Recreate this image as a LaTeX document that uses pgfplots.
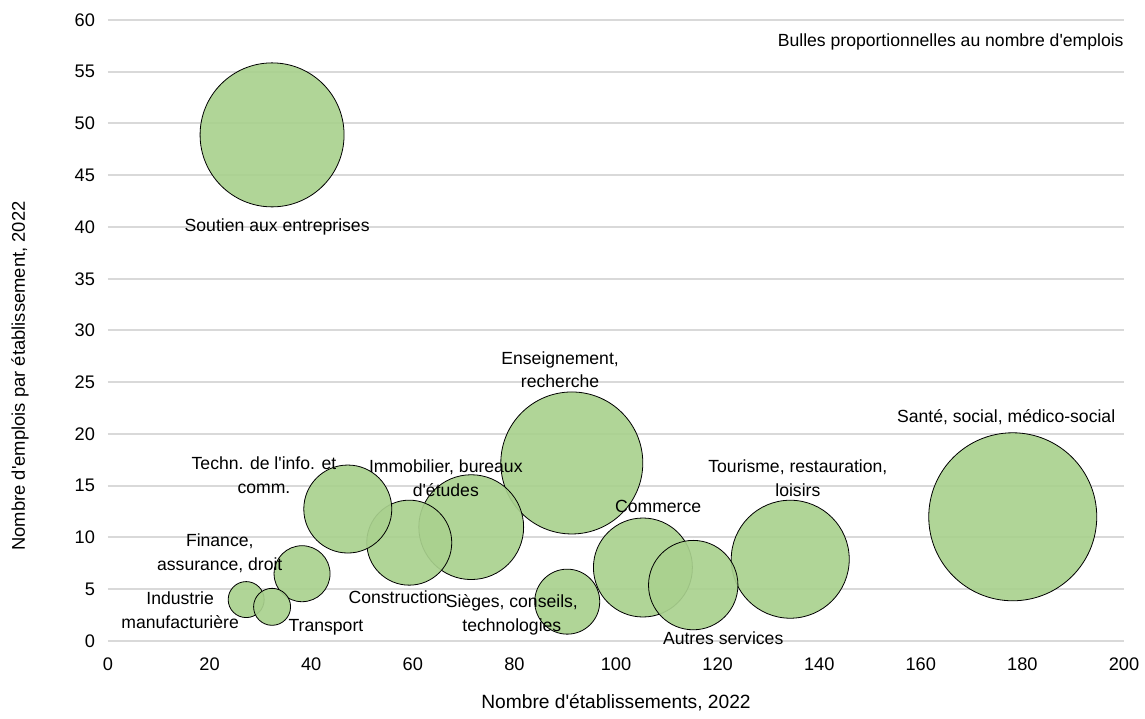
\documentclass[border=0pt]{standalone}
\usepackage{fontspec}
\setmainfont{Liberation Sans}
\usepackage{pgfplots}
\pgfplotsset{compat=1.18}
\usepackage{pgfplotstable}

\definecolor{bubble}{HTML}{A9D18E}
\definecolor{gridgray}{HTML}{D9D9D9}
\newcommand{\q}{\textquotesingle}

% x, y, bubble radius (pt)
\pgfplotstableread{
x     y     r
32.3  48.9  36
178.1 12.0  42
91.3  17.2  35.5
134.3 7.9   29.5
105.3 7.1   24.75
115.2 5.4   22.35
90.4  3.8   16.25
71.5  11.0  26.2
59.3  9.5   21.25
47.2  12.75 22
38.2  6.5   14
27.2  4.0   9
32.3  3.3   9.25
}\bubbles

\begin{document}
\begin{tikzpicture}
\begin{axis}[
    name=ax,
    set layers,
    scale only axis,
    width=508pt, height=310.5pt,
    xmin=0, xmax=200, ymin=0, ymax=60,
    xtick={0,20,...,200}, ytick={0,5,...,60},
    axis line style={draw=none},
    tick style={draw=none},
    ymajorgrids,
    grid style={gridgray, line width=1pt},
    tick label style={font=\fontsize{9.1}{11}\selectfont},
    /pgf/number format/assume math mode=true,
    xticklabel style={yshift=-5pt},
    yticklabel style={xshift=-3pt},
    clip=false,
]
\addplot[
    scatter, only marks, mark=*,
    scatter/use mapped color={draw=black, fill=bubble},
    visualization depends on={\thisrow{r} \as \rr},
    scatter/@pre marker code/.append style={/tikz/mark size=\rr pt},
    mark options={line width=0.4pt, fill opacity=0.92},
] table[x=x, y=y] {\bubbles};

\begin{pgfonlayer}{axis foreground}
\begin{scope}[every node/.style={align=center, font=\fontsize{8.8}{11.8}\selectfont, inner sep=0pt}]
\node at (axis cs:33.3,40.0) {Soutien aux entreprises};
\node at (axis cs:89.0,26.2) {Enseignement,\\recherche};
\node at (axis cs:176.8,21.6) {Santé, social, médico-social};
\node at (axis cs:135.8,15.7) {Tourisme, restauration,\\loisirs};
\node at (axis cs:108.3,13.0) {Commerce};
\node at (axis cs:121.1,0.3) {Autres services};
\node at (axis cs:79.5,2.5) {Sièges, conseils,\\technologies};
\node at (axis cs:66.5,15.7) {Immobilier, bureaux\\d\q études};
\node at (axis cs:57.1,4.25) {Construction};
\node at (axis cs:30.7,16.0) {Techn. de l\q info. et\\comm.};
\node at (axis cs:22.0,8.5) {Finance,\\assurance, droit};
\node at (axis cs:14.2,3.0) {Industrie\\manufacturière};
\node at (axis cs:42.9,1.35) {Transport};
\node[anchor=east] at (axis cs:200,57.9) {Bulles proportionnelles au nombre d\q emplois};
\end{scope}
\end{pgfonlayer}
\end{axis}
\node[font=\fontsize{9.6}{11}\selectfont] at ([yshift=-31pt]ax.south) {Nombre d\q établissements, 2022};
\node[font=\fontsize{9.2}{11}\selectfont, rotate=90] at ([xshift=-44pt,yshift=-22.75pt]ax.west) {Nombre d\q emplois par établissement, 2022};
\pgfresetboundingbox
\path[use as bounding box] ([xshift=-54pt,yshift=-39pt]ax.south west) rectangle ([xshift=10.5pt,yshift=10pt]ax.north east);
\end{tikzpicture}
\end{document}
